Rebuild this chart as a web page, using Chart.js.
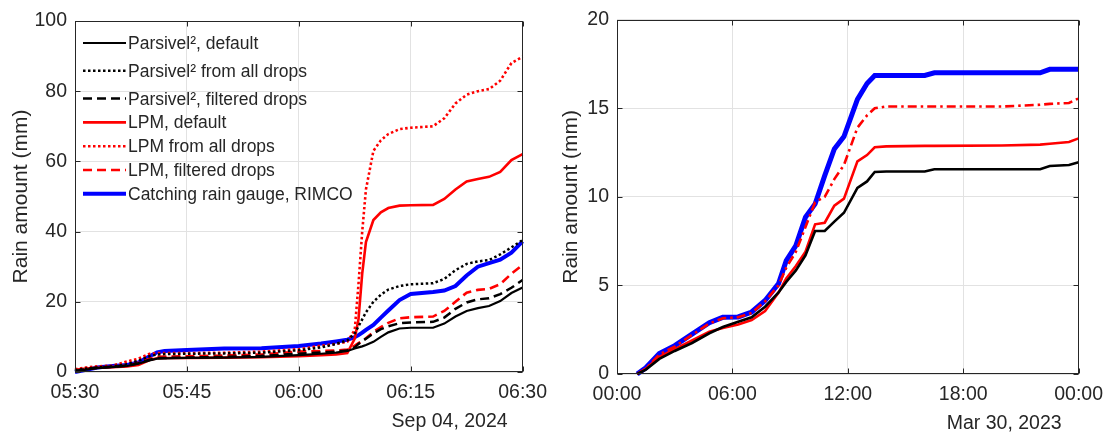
<!DOCTYPE html>
<html>
<head>
<meta charset="utf-8">
<script src="https://cdn.jsdelivr.net/npm/chart.js@4/dist/chart.umd.min.js"></script>
<style>
html,body{margin:0;padding:0;background:#fff;}
#wrap{position:relative;width:1112px;height:434px;overflow:hidden;}
#wrap canvas{position:absolute;top:0;}
#c1{left:0;} #c2{left:556px;}
</style>
</head>
<body>
<div id="wrap">
  <canvas id="c1" width="556" height="434"></canvas>
  <canvas id="c2" width="556" height="434"></canvas>
</div>
<script>
// ── Left panel: minutes after 05:30, Sep 04 2024 ──
const minA=[0,1.5,3,5,7,8.5,10,11,12,15,20,25,30,33,35,36.5,37.5,38,38.5,39,40,41,42,43.5,45,48,49.5,51,52.5,54,55.5,57,58.5,60];
const parsDefA =[0.2,0.7,1.1,1.4,1.7,2.4,3.3,3.8,3.9,4.0,4.1,4.3,4.8,5.2,5.5,6.0,6.7,7.0,7.3,7.7,8.6,10,11.3,12.4,12.6,12.6,13.8,15.8,17.4,18.2,18.8,20.2,22.5,24.1];
const parsAllA =[0.5,1.0,1.3,1.6,2.2,3.2,4.5,5.0,5.1,5.2,5.3,5.5,6.2,7,8,9,11,13,15,17,20,22,23.5,24.5,25,25.3,26.5,29,30.8,31.5,31.9,33.5,35.5,37.6];
const parsFiltA=[0.3,0.8,1.2,1.5,1.8,2.5,3.5,4.0,4.0,4.1,4.3,4.6,5.2,5.6,5.8,6.1,7,8,8.8,9.5,11,12.2,13,13.9,14.1,14.3,15.5,18,19.8,20.7,21,22.2,24,26.2];
const lpmDefA  =[0.6,1.0,1.2,1.4,1.6,2.0,3.4,3.9,4.0,4.0,4.1,4.2,4.5,4.8,5.0,5.4,9.5,15,28,37,43.3,45.5,46.7,47.4,47.5,47.6,49.3,52,54.3,55,55.6,57,60.4,62.1];
const lpmAllA  =[0.8,1.3,1.6,1.8,3.0,3.8,5.2,5.4,5.4,5.4,5.5,5.8,6.5,7.5,8.0,8.6,12,25,40,52,63,66,67.8,69.2,69.6,70,72.3,76.5,79,80,80.6,83,88,89.8];
const lpmFiltA =[0.4,0.9,1.2,1.5,1.8,2.6,3.8,4.3,4.4,4.5,4.7,5.0,5.8,6.0,6.1,6.4,7.5,8.2,8.8,9.6,11.4,12.8,14,15.3,15.6,15.8,17.4,20,22.6,23.4,23.7,25,28,30.5];
const rimcoA   =[0,0.6,1.3,1.7,2.0,2.7,4.5,5.6,6.0,6.3,6.7,6.8,7.4,8.1,8.7,9.2,9.9,10.5,11.2,12,13.4,15.5,17.5,20.5,22.2,22.8,23.2,24.5,27.5,30,31,32,34,37.2];
const xLabelsA=['05:30','05:45','06:00','06:15','06:30'];

// ── Right panel: hours after 00:00, Mar 30 2023 ──
const hrB=[1.05,1.5,2.2,3,3.9,4.8,5.5,6.3,7,7.7,8.4,8.8,9.3,9.8,10.3,10.8,11.3,11.8,12.5,13,13.4,14,16,16.5,20,22,22.5,23.5,24];
const parsDefB=[0,0.25,0.85,1.3,1.75,2.3,2.65,2.95,3.2,3.8,4.6,5.2,5.85,6.7,8.07,8.07,8.6,9.1,10.5,10.87,11.4,11.43,11.43,11.56,11.56,11.56,11.74,11.8,11.95];
const lpmDefB =[0,0.3,0.97,1.4,1.9,2.38,2.6,2.8,3.05,3.55,4.6,5.4,6.1,6.9,8.45,8.54,9.5,9.9,12.0,12.36,12.8,12.85,12.88,12.88,12.9,12.95,13.0,13.1,13.3];
const lpmFiltB=[0,0.3,1.1,1.55,2.2,2.85,3.15,3.2,3.45,4.1,5.0,6.0,6.9,8.3,9.7,10.0,11.0,11.8,13.9,14.6,15.0,15.1,15.1,15.1,15.1,15.2,15.25,15.3,15.56];
const rimcoB  =[0,0.35,1.15,1.6,2.25,2.9,3.2,3.22,3.5,4.15,5.1,6.4,7.25,8.85,9.6,11.2,12.7,13.4,15.5,16.4,16.85,16.85,16.85,17.0,17.0,17.0,17.2,17.2,17.2];
const xLabelsB=['00:00','06:00','12:00','18:00','00:00'];

const legendLabels=['Parsivel², default','Parsivel² from all drops','Parsivel², filtered drops',
  'LPM, default','LPM from all drops','LPM, filtered drops','Catching rain gauge, RIMCO'];

const FONT="'Liberation Sans', Arial, Helvetica, sans-serif";
const AX='#262626', GRID='#e2e2e2';
const DOT=[2.5,2.5], DASH=[9,5], DASHDOT=[9,4,2.5,4];

function pts(xs,ys){return ys.map((v,i)=>({x:xs[i],y:v}));}
function ds(label,xs,ys,color,width,dash){
  return {label,data:pts(xs,ys),borderColor:color,borderWidth:width,borderDash:dash||[],
    pointRadius:0,fill:false,tension:0,clip:8};
}

// frame, inward ticks, date label, inline legend
const decor={id:'decor',
  afterDatasetsDraw(chart,args,o){
    const ctx=chart.ctx,a=chart.chartArea,sx=chart.scales.x,sy=chart.scales.y;
    ctx.save();
    ctx.strokeStyle=AX;ctx.lineWidth=1;ctx.setLineDash([]);
    const L=Math.round(a.left)+0.5,R=Math.round(a.right)-0.5,T=Math.round(a.top)+0.5,B=Math.round(a.bottom)-0.5;
    ctx.strokeRect(L,T,R-L,B-T);
    ctx.beginPath();
    sx.ticks.forEach(t=>{const p=Math.round(sx.getPixelForValue(t.value))+0.5;
      ctx.moveTo(p,B);ctx.lineTo(p,B-5);ctx.moveTo(p,T);ctx.lineTo(p,T+5);});
    sy.ticks.forEach(t=>{const p=Math.round(sy.getPixelForValue(t.value))+0.5;
      ctx.moveTo(L,p);ctx.lineTo(L+5,p);ctx.moveTo(R,p);ctx.lineTo(R-5,p);});
    ctx.stroke();
    ctx.fillStyle=AX;ctx.font='19.5px '+FONT;ctx.textAlign='right';ctx.textBaseline='alphabetic';
    ctx.fillText(o.date,a.right-o.dateOff,a.bottom+55);
    if(o.legend){
      let y=a.top+22;
      chart.data.datasets.forEach((d,i)=>{
        ctx.strokeStyle=d.borderColor;ctx.lineWidth=d.borderWidth;ctx.setLineDash(d.borderDash);
        ctx.beginPath();ctx.moveTo(a.left+8,y);ctx.lineTo(a.left+51,y);ctx.stroke();
        ctx.setLineDash([]);ctx.fillStyle=AX;ctx.font='17.5px '+FONT;ctx.textAlign='left';
        ctx.fillText(legendLabels[i],a.left+53,y+6);
        const nx=legendLabels[i+1];
        y+= nx&&nx.includes('²')?27.8:23.8;
      });
    }
    ctx.restore();
  }};

function opts(xMax,xStep,xLabels,yMax,yStep,yWidth,xHeight,pad,titlePad,date,dateOff,legend){
  return {responsive:false,animation:false,
    layout:{padding:pad},
    plugins:{legend:{display:false},tooltip:{enabled:false},decor:{date,dateOff,legend}},
    scales:{
      x:{type:'linear',min:0,max:xMax,
        ticks:{stepSize:xStep,autoSkip:false,maxRotation:0,padding:9,color:AX,font:{family:FONT,size:19.5},
          callback:(v,i)=>xLabels[i]},
        grid:{color:GRID,drawTicks:false},border:{display:false},
        afterFit:s=>{s.height=xHeight;}},
      y:{min:0,max:yMax,
        ticks:{stepSize:yStep,padding:8,color:AX,font:{family:FONT,size:19.5}},
        grid:{color:GRID,drawTicks:false},border:{display:false},
        title:{display:true,text:'Rain amount (mm)',color:AX,font:{family:FONT,size:21},padding:{top:titlePad,bottom:0}},
        afterFit:s=>{s.width=yWidth;}}
    }};
}

new Chart(document.getElementById('c1'),{type:'line',
  data:{datasets:[
    ds(legendLabels[0],minA,parsDefA,'#000000',2.2),
    ds(legendLabels[1],minA,parsAllA,'#000000',2.5,DOT),
    ds(legendLabels[2],minA,parsFiltA,'#000000',2.5,DASH),
    ds(legendLabels[3],minA,lpmDefA,'#ff0000',2.6),
    ds(legendLabels[4],minA,lpmAllA,'#ff0000',2.6,DOT),
    ds(legendLabels[5],minA,lpmFiltA,'#ff0000',2.6,DASH),
    ds(legendLabels[6],minA,rimcoA,'#0000ff',4)
  ]},
  options:opts(60,15,xLabelsA,100,20,75,62,{left:0,right:24,top:21,bottom:0},9,'Sep 04, 2024',15,true),
  plugins:[decor]});

new Chart(document.getElementById('c2'),{type:'line',
  data:{datasets:[
    ds(legendLabels[0],hrB,parsDefB,'#000000',2.6),
    ds(legendLabels[3],hrB,lpmDefB,'#ff0000',2.6),
    ds(legendLabels[5],hrB,lpmFiltB,'#ff0000',2.6,DASHDOT),
    ds(legendLabels[6],hrB,rimcoB,'#0000ff',5)
  ]},
  options:opts(24,6,xLabelsB,20,5,61,60,{left:0,right:29,top:17,bottom:0},3,'Mar 30, 2023',17,false),
  plugins:[decor]});
</script>
</body>
</html>
